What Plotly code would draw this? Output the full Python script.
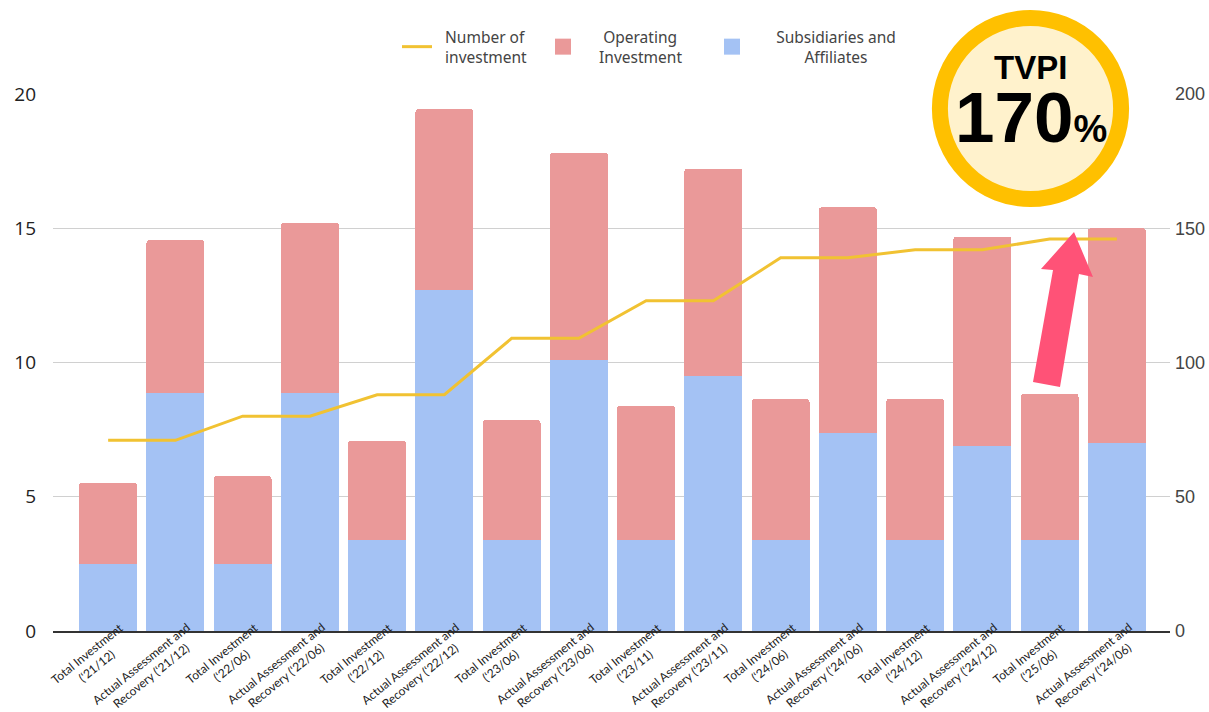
import plotly.graph_objects as go

# ---------------- data ----------------
categories = [
    "Total Investment<br>(‘21/12)", "Actual Assessment and<br>Recovery (‘21/12)",
    "Total Investment<br>(‘22/06)", "Actual Assessment and<br>Recovery (‘22/06)",
    "Total Investment<br>(‘22/12)", "Actual Assessment and<br>Recovery (‘22/12)",
    "Total Investment<br>(‘23/06)", "Actual Assessment and<br>Recovery (‘23/06)",
    "Total Investment<br>(‘23/11)", "Actual Assessment and<br>Recovery (‘23/11)",
    "Total Investment<br>(‘24/06)", "Actual Assessment and<br>Recovery (‘24/06)",
    "Total Investment<br>(‘24/12)", "Actual Assessment and<br>Recovery (‘24/12)",
    "Total Investment<br>(‘25/06)", "Actual Assessment and<br>Recovery (‘24/06)",
]
subsidiaries = [2.5, 8.85, 2.5, 8.85, 3.4, 12.7, 3.4, 10.1, 3.4, 9.5, 3.4, 7.37, 3.4, 6.9, 3.4, 7.0]
operating = [3.02, 5.7, 3.27, 6.36, 3.68, 6.73, 4.46, 7.71, 4.99, 7.72, 5.24, 8.41, 5.24, 7.79, 5.43, 8.0]
num_investment = [71, 71, 80, 80, 88, 88, 109, 109, 123, 123, 139, 139, 142, 142, 146, 146]
left_ticks = [0, 5, 10, 15, 20]
right_ticks = [0, 50, 100, 150, 200]
tvpi_label = "TVPI"
tvpi_value = "170"

x = list(range(len(categories)))

# ---------------- layout geometry (pixels) ----------------
W, H = 1209, 712
L, R, T, B = 53, 1170, 94, 631
PW, PH = R - L, B - T
BLUE, RED, GOLD = "#a4c2f4", "#ea9999", "#f1c232"


def px(v):
    return (v - L) / PW


def py(v):
    return (B - v) / PH


NB = "\u00a0"

fig = go.Figure()
fig.add_trace(go.Bar(
    x=x, y=subsidiaries, name="Subsidiaries and Affiliates", showlegend=False,
    marker=dict(color=BLUE, line=dict(width=0)), width=0.86,
))
fig.add_trace(go.Bar(
    x=x, y=operating, name="Operating Investment", showlegend=False,
    marker=dict(color=RED, line=dict(width=0)), width=0.86,
))
fig.add_trace(go.Scatter(
    x=x, y=num_investment, name=f"{NB*2}Number of<br>{NB*2}investment", yaxis="y2",
    mode="lines", line=dict(color=GOLD, width=3), legend="legend",
))
# legend entries for the stacked series (larger square swatches)
fig.add_trace(go.Scatter(
    x=[None], y=[None], mode="markers", name=f"{NB*5}Operating<br>{NB*4}Investment",
    marker=dict(symbol="square", size=20, color=RED), legend="legend2",
))
fig.add_trace(go.Scatter(
    x=[None], y=[None], mode="markers", name=f"{NB*6}Subsidiaries and<br>{NB*13}Affiliates",
    marker=dict(symbol="square", size=20, color=BLUE), legend="legend3",
))

shapes = []
# TVPI badge
cx, cy, rr = 1030.5, 108.5, 90.6
shapes.append(dict(
    type="circle", xref="paper", yref="paper",
    x0=px(cx - rr), x1=px(cx + rr), y0=py(cy + rr), y1=py(cy - rr),
    line=dict(color="#ffc000", width=16), fillcolor="#fff2cc", layer="above",
))
# pink arrow
pts = [(1033, 382), (1060, 387), (1079, 274), (1093, 277), (1074, 232),
       (1041, 269), (1053, 270)]
path = "M " + " L ".join(f"{px(a):.5f},{py(b):.5f}" for a, b in pts) + " Z"
shapes.append(dict(type="path", xref="paper", yref="paper", path=path,
                   fillcolor="#ff5277", line=dict(width=0), layer="above"))

annotations = [
    dict(xref="paper", yref="paper", x=px(1030), y=py(68), text=f"<b>{tvpi_label}</b>",
         showarrow=False, xanchor="center", yanchor="middle",
         font=dict(family="Liberation Sans, Arial", size=33, color="#000")),
    dict(xref="paper", yref="paper", x=px(1031), y=py(118),
         text=f"<b>{tvpi_value}<span style='font-size:38px'>%</span></b>",
         showarrow=False, xanchor="center", yanchor="middle",
         font=dict(family="Liberation Sans, Arial", size=71, color="#000")),
]
# slanted category labels, centred lines, block anchored at each tick
for xi, lab in zip(x, categories):
    annotations.append(dict(
        xref="x", yref="paper", x=xi, y=py(617), xshift=31,
        text=lab, showarrow=False, textangle=-39, align="center",
        xanchor="right", yanchor="top",
        font=dict(family="Lato", size=12, color="#222"),
    ))

leg_common = dict(orientation="h", yanchor="middle", xanchor="left", y=py(47),
                  font=dict(family="Noto Sans", size=15.5, color="#444"),
                  bgcolor="rgba(0,0,0,0)", itemwidth=30)

fig.update_layout(
    width=W, height=H,
    margin=dict(l=L, r=W - R, t=T, b=H - B, pad=0, autoexpand=False),
    paper_bgcolor="white", plot_bgcolor="white",
    barmode="stack", barcornerradius=3,
    showlegend=True,
    legend=dict(x=px(397), **leg_common),
    legend2=dict(x=px(543), **leg_common),
    legend3=dict(x=px(712), **leg_common),
    xaxis=dict(
        tickmode="array", tickvals=x, ticktext=categories, range=[-0.82, 15.79],
        showticklabels=False,
        showgrid=False, showline=True, linecolor="#333", linewidth=1.5,
        zeroline=False, ticks="", automargin=False,
    ),
    yaxis=dict(
        range=[0, 20], tickvals=left_ticks, showgrid=True, gridcolor="#d0d0d0", gridwidth=1,
        zeroline=False, tickfont=dict(family="Open Sans", size=19, color="#222"),
        ticklabelstandoff=16, automargin=False,
    ),
    yaxis2=dict(
        range=[0, 200], tickvals=right_ticks, overlaying="y", side="right",
        showgrid=False, zeroline=False,
        tickfont=dict(family="Liberation Sans", size=18, color="#444"),
        ticklabelstandoff=4, automargin=False,
    ),
    shapes=shapes, annotations=annotations,
)

fig.write_html("out.html")
